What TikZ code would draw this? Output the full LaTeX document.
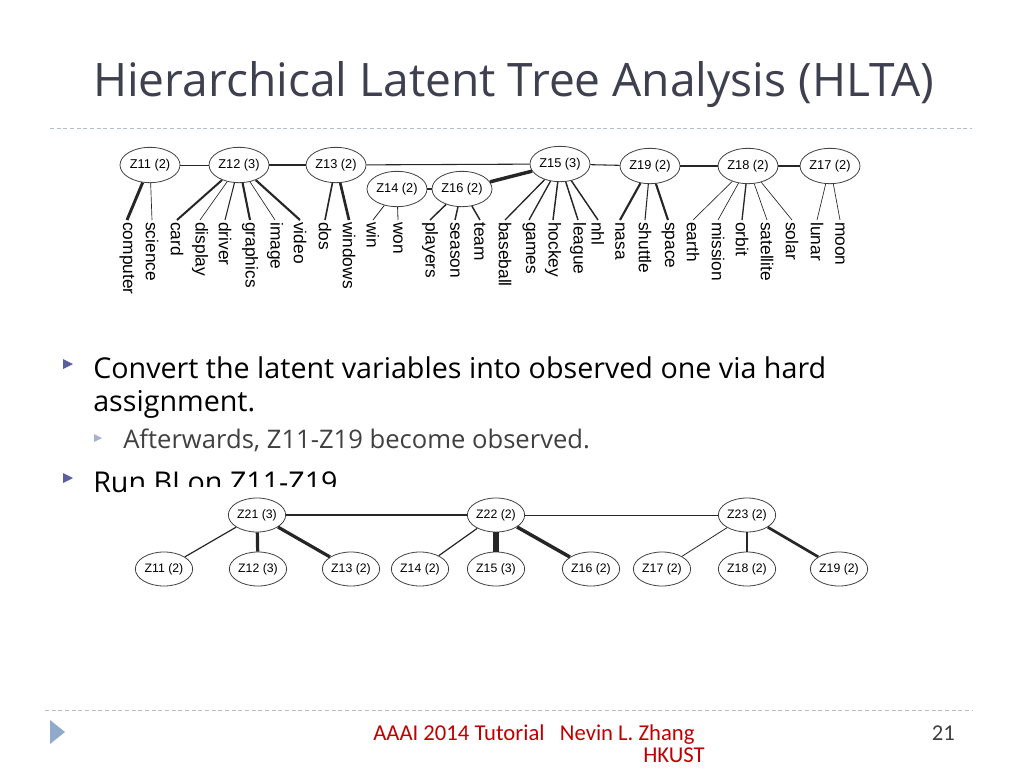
\documentclass[tikz,border=0pt]{standalone}
\usepackage{fontspec}
\setmainfont{Open Sans}
\newfontfamily\treefont{Liberation Sans}
\newfontfamily\footfont{Carlito}
\usetikzlibrary{shapes.geometric}

\definecolor{titlegray}{HTML}{3E3F4F}
\definecolor{rulegray}{HTML}{B4BEC8}
\definecolor{bulletblue}{HTML}{5C5F9C}
\definecolor{subblue}{HTML}{A3B3D2}
\definecolor{footblue}{HTML}{8FAACB}
\definecolor{footred}{HTML}{C00000}
\definecolor{subgray}{HTML}{404040}

\tikzset{
  latent/.style={draw=black!75, ellipse, line width=0.6pt, minimum width=45pt,
    minimum height=26.5pt, inner sep=0pt, font=\treefont\fontsize{9.6}{10}\selectfont},
  latentb/.style={latent, minimum width=43pt, minimum height=25.5pt,
    font=\treefont\fontsize{9.2}{10}\selectfont},
  word/.style={rotate=-90, anchor=west, inner sep=1.5pt,
    font=\treefont\fontsize{13}{14}\selectfont},
  dashrule/.style={rulegray, line width=0.6pt, dash pattern=on 3pt off 2pt},
  link/.style={black!85}
}

\begin{document}
\begin{tikzpicture}[x=0.75pt,y=-0.75pt]
\useasboundingbox (0,0) rectangle (1024,768);

% title and rules
\node[anchor=base west, inner sep=0pt, text=titlegray,
  font=\fontsize{34.6}{40}\selectfont] (title) at (93,96)
  {Hierarchical Latent Tree Analysis (HLTA)};
\draw[dashrule] (50,128) -- (972,128);
\draw[dashrule] (45,710) -- (972,710);

% top tree: latent nodes
\node[latent] (z11) at (150,165) {Z11 (2)};
\node[latent] (z12) at (239,165) {Z12 (3)};
\node[latent] (z13) at (336,165) {Z13 (2)};
\node[latent] (z14) at (397,189) {Z14 (2)};
\node[latent] (z16) at (462,189) {Z16 (2)};
\node[latent] (z15) at (560,164) {Z15 (3)};
\node[latent] (z19) at (650,166) {Z19 (2)};
\node[latent] (z18) at (748,166) {Z18 (2)};
\node[latent] (z17) at (830,166) {Z17 (2)};

\draw[link, line width=0.7pt] (z11) -- (z12);
\draw[link, line width=1.4pt] (z12) -- (z13);
\draw[link, line width=0.8pt] (z13) -- (z15);
\draw[link, line width=1.4pt] (z14) -- (z16);
\draw[link, line width=2.6pt] (z16) -- (z15);
\draw[link, line width=0.8pt] (z15) -- (z19);
\draw[link, line width=1.4pt] (z19) -- (z18);
\draw[link, line width=1.4pt] (z18) -- (z17);

% top tree: words
\foreach \p/\w/\x/\lw in {
  z11/computer/127/2.2, z11/science/152/0.5,
  z12/card/177/1.5, z12/display/200/0.5, z12/driver/225/0.8,
  z12/graphics/250/1.6, z12/image/275/0.5, z12/video/300/1.6,
  z13/dos/325/1.2, z13/windows/349/2.0,
  z14/win/373/0.6, z14/won/398/0.6,
  z16/players/430/1.1, z16/season/455/1.1, z16/team/480/1.1,
  z15/baseball/505/1.0, z15/games/529/1.0, z15/hockey/553/1.1,
  z15/league/578/1.1, z15/nhl/598/1.1,
  z19/nasa/620/1.6, z19/shuttle/645/0.8, z19/space/668/1.6,
  z18/earth/693/0.5, z18/mission/718/0.5, z18/orbit/742/1.0,
  z18/satellite/767/0.5, z18/solar/792/0.5,
  z17/lunar/817/0.5, z17/moon/840/0.5}{
  \node[word] (\w) at (\x,220) {\w};
  \draw[link, line width=\lw pt] (\p) -- (\w.west);
}

% bullets
\fill[bulletblue] (63,359) -- (73,364) -- (63,369) -- cycle;
\node[anchor=base west, inner sep=0pt, font=\fontsize{21.5}{26}\selectfont] (b1)
  at (93,378) {Convert the latent variables into observed one via hard};
\node[anchor=base west, inner sep=0pt, font=\fontsize{21.5}{26}\selectfont] (b1b)
  at (93,411) {assignment.};
\fill[subblue] (94,434) -- (102,438) -- (94,442) -- cycle;
\node[anchor=base west, inner sep=0pt, text=subgray,
  font=\fontsize{19.2}{22}\selectfont] (b2) at (123,448)
  {Afterwards, Z11-Z19 become observed.};
\fill[bulletblue] (63,473) -- (73,478) -- (63,483) -- cycle;
\node[anchor=base west, inner sep=0pt, font=\fontsize{21.5}{26}\selectfont] (b3)
  at (93,492) {Run BI on Z11-Z19};

% bottom tree (picture covers the last line)
\fill[white] (130,487) rectangle (880,595);
\node[latentb] (t21) at (257,515) {Z21 (3)};
\node[latentb] (t22) at (496,515) {Z22 (2)};
\node[latentb] (t23) at (747,515) {Z23 (2)};
\node[latentb] (t11) at (164,569) {Z11 (2)};
\node[latentb] (t12) at (258,569) {Z12 (3)};
\node[latentb] (t13) at (351,569) {Z13 (2)};
\node[latentb] (t14) at (420,569) {Z14 (2)};
\node[latentb] (t15) at (496,569) {Z15 (3)};
\node[latentb] (t16) at (591,569) {Z16 (2)};
\node[latentb] (t17) at (662,569) {Z17 (2)};
\node[latentb] (t18) at (747,569) {Z18 (2)};
\node[latentb] (t19) at (839,569) {Z19 (2)};

\draw[link, line width=1.4pt] (t21) -- (t22);
\draw[link, line width=0.7pt] (t22) -- (t23);
\draw[link, line width=0.9pt] (t21) -- (t11);
\draw[link, line width=2.4pt] (t21) -- (t12);
\draw[link, line width=2.4pt] (t21) -- (t13);
\draw[link, line width=0.9pt] (t22) -- (t14);
\draw[link, line width=4pt] (t22) -- (t15);
\draw[link, line width=2.6pt] (t22) -- (t16);
\draw[link, line width=0.6pt] (t23) -- (t17);
\draw[link, line width=1.2pt] (t23) -- (t18);
\draw[link, line width=2pt] (t23) -- (t19);

% footer
\fill[footblue] (50,720) -- (65,732) -- (50,744) -- cycle;
\node[anchor=base west, inner sep=0pt, text=footred,
  font=\footfont\fontsize{17}{20}\selectfont] (foot) at (373,740)
  {AAAI 2014 Tutorial\ \ \ Nevin L. Zhang};
\node[anchor=base east, inner sep=0pt, text=footred,
  font=\footfont\fontsize{17}{20}\selectfont] (hkust) at (705,762) {HKUST};
\node[anchor=base east, inner sep=0pt, text=black!75,
  font=\footfont\fontsize{17}{20}\selectfont] (page) at (955,740) {21};
\end{tikzpicture}
\end{document}
